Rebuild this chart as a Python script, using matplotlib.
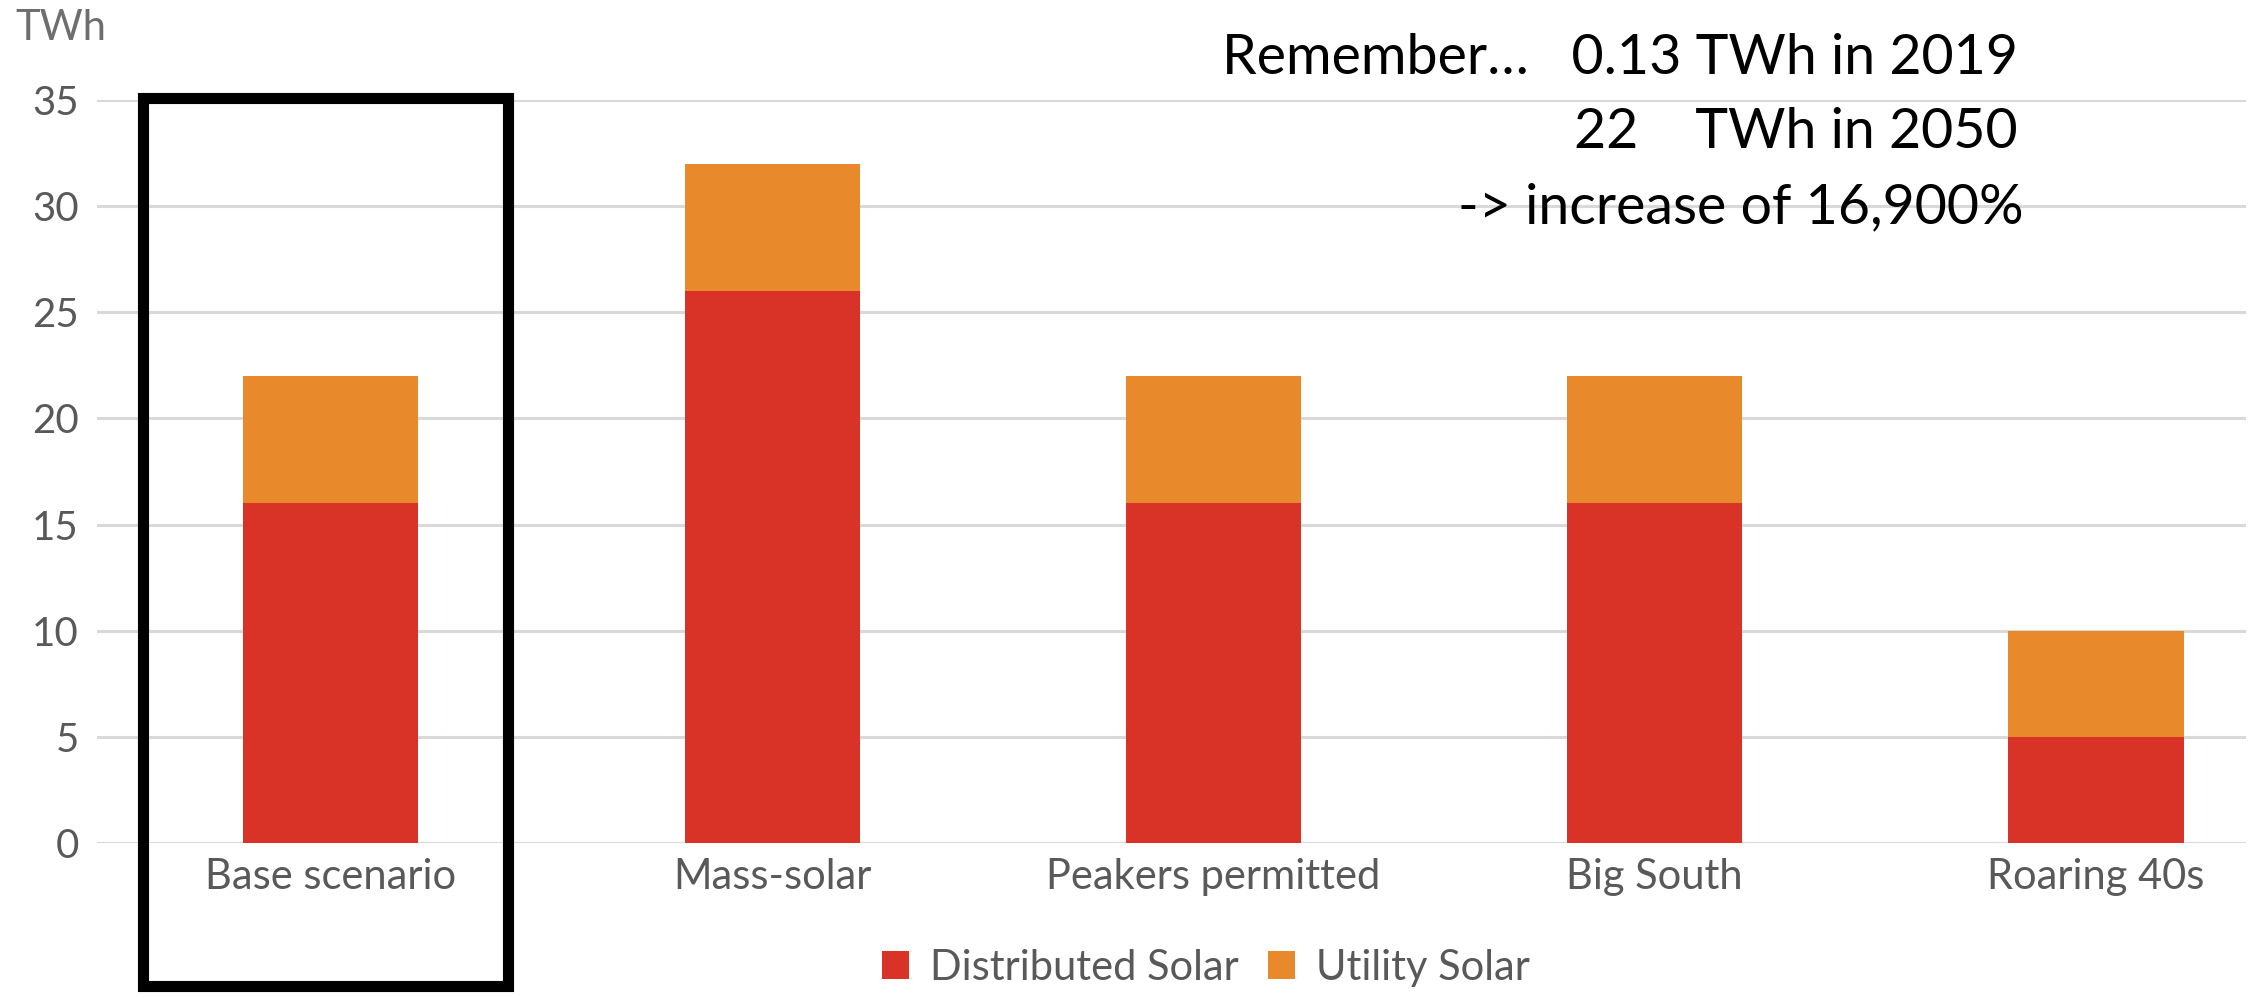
import matplotlib
matplotlib.use("Agg")
import matplotlib.pyplot as plt
from matplotlib.patches import Rectangle, Patch
import numpy as np

categories = ["Base scenario", "Mass-solar", "Peakers permitted", "Big South", "Roaring 40s"]
distributed = [16, 26, 16, 16, 5]
utility = [6, 6, 6, 6, 5]
yticks = [0, 5, 10, 15, 20, 25, 30, 35]
series_names = ["Distributed Solar", "Utility Solar"]

RED = "#D93327"
ORANGE = "#E8892B"
GREY = "#595959"

plt.rcParams['font.family'] = ['Lato', 'DejaVu Sans']

fig = plt.figure(figsize=(22.49, 9.98), dpi=100)
ax = fig.add_axes([97/2249, 1-843/998, (2246-97)/2249, (843-100)/998])

x = np.arange(len(categories))
w = 0.397
ax.bar(x, distributed, width=w, color=RED, zorder=3)
ax.bar(x, utility, width=w, bottom=distributed, color=ORANGE, zorder=3)

ax.set_xlim(-0.53, 4.34)
ax.set_ylim(0, 35)
ax.set_yticks(yticks)
ax.set_yticklabels([str(v) for v in yticks], fontsize=29, color=GREY)
ax.set_xticks(x)
ax.set_xticklabels(categories, fontsize=30, color=GREY)
ax.tick_params(axis='both', length=0)
ax.tick_params(axis='y', pad=13)
ax.tick_params(axis='x', pad=11)
ax.yaxis.grid(True, color="#D9D9D9", linewidth=2.2, zorder=0)
ax.set_axisbelow(True)
for s in ax.spines.values():
    s.set_visible(False)

# unit label
fig.text(15/2249, 1-28/998, "TWh", fontsize=30, color="#6E6E6E", va='center', ha='left')

# highlight box around base scenario
box = Rectangle((-0.425, -6.75), 0.826, 41.85, transform=ax.transData,
                fill=False, edgecolor="black", linewidth=8, clip_on=False, zorder=5)
ax.add_patch(box)

# annotation
ann_font = ['Lato', 'DejaVu Sans']
fig.text(2018/2249, 1-58/998, "Remember…   0.13 TWh in 2019", fontsize=40,
         family=ann_font, ha='right', va='center', color='black')
fig.text(2018/2249, 1-133/998, "22    TWh in 2050", fontsize=40,
         family=ann_font, ha='right', va='center', color='black')
fig.text(2024/2249, 1-208/998, "-> increase of 16,900%", fontsize=40,
         family=ann_font, ha='right', va='center', color='black')

handles = [Patch(facecolor=RED, edgecolor='none'), Patch(facecolor=ORANGE, edgecolor='none')]
fig.legend(handles, series_names, loc='center', bbox_to_anchor=(1206/2249, 1-968/998),
           ncol=2, frameon=False, fontsize=30, labelcolor=GREY,
           handlelength=0.65, handleheight=0.65, handletextpad=0.5, columnspacing=0.7)

fig.savefig("out.png", dpi=100)
